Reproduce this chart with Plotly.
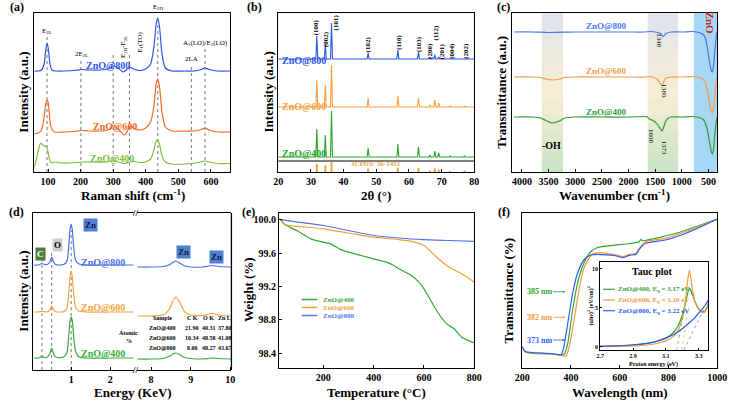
import plotly.graph_objects as go

W, H = 738, 401
FONT = 'Liberation Serif'

# ---------------- (a) Raman ----------------
raman_x_800 = [58, 70, 80, 88, 93, 97, 101, 106, 112, 125, 150, 180, 203, 230, 260, 285, 300, 315, 330, 340, 350, 362, 380, 400, 415, 425, 432, 437, 442, 450, 460, 480, 520, 550, 570, 582, 595, 620, 660]
raman_y_800 = [101, 101, 102, 108, 122, 129, 123, 108, 102, 101, 101, 101.5, 102.5, 102, 102, 103, 106, 104, 100, 102, 105, 103, 101.5, 103, 108, 125, 148, 154, 146, 118, 104, 101, 101, 101, 102.5, 104, 102.5, 101, 101]
raman_x_600 = [58, 70, 80, 88, 93, 97, 100, 104, 110, 120, 150, 180, 203, 230, 260, 285, 300, 315, 335, 345, 350, 362, 380, 400, 415, 425, 432, 437, 442, 450, 460, 480, 520, 550, 570, 582, 595, 620, 660]
raman_y_600 = [38, 39, 42, 55, 68, 72, 70, 58, 44, 40, 40, 40.5, 41.5, 41, 41, 42, 47, 43, 37, 42, 46, 44, 42, 44, 50, 66, 88, 93, 86, 60, 45, 41, 41, 41, 42.5, 44, 42, 40, 40]
raman_x_400 = [58, 65, 72, 78, 84, 90, 95, 100, 105, 112, 120, 140, 170, 203, 240, 280, 300, 315, 335, 350, 365, 380, 400, 415, 425, 432, 437, 442, 450, 460, 480, 520, 550, 570, 582, 595, 620, 660]
raman_y_400 = [5, 14, 24, 29, 27, 26, 25, 20, 12, 9, 10, 9, 9, 10, 10, 10, 11.5, 10, 8.5, 10, 10.5, 9.5, 10, 13, 22, 31, 32, 28, 16, 10, 8, 8, 9, 10, 11, 10, 8.5, 8.5]
raman_modes = ['E<sub>2L</sub>', '2E<sub>2L</sub>', 'E<sub>2H</sub>-E<sub>2L</sub>', 'E<sub>1</sub>(TO)', 'E<sub>2H</sub>', '2LA', 'A<sub>1</sub>(LO)/E<sub>1</sub>(LO)']
raman_mode_x = [97, 201, 300, 350, 437, 540, 582]
raman_mode_top = [136, 113, 118, 120, 150, 105, 123]

# ---------------- (b) XRD ----------------
xrd_hkl = ['(100)', '(002)', '(101)', '(102)', '(110)', '(103)', '(200)', '(112)', '(201)', '(004)', '(202)']
xrd_pos = [31.8, 34.4, 36.3, 47.5, 56.6, 62.9, 66.4, 67.9, 69.1, 72.6, 77.0]
xrd_base_800, xrd_top_800 = 113, [136, 128, 149, 119, 122, 120, 114.5, 117, 115, 113.5, 113.5]
xrd_base_600, xrd_top_600 = 65, [92, 87, 107, 74, 76, 74, 67, 72, 69, 66, 66]
xrd_base_400, xrd_top_400 = 15, [43, 37, 61, 24, 28, 25, 17, 21, 19, 16, 16]
jcpds_h = [8, 6.5, 10, 3.5, 4.5, 4, 1.5, 3.5, 2.5, 1, 1.5]
hkl_lab_x = [31.8, 34.6, 37.8, 47.6, 56.9, 63.1, 66.4, 68.4, 70.2, 73.1, 77.4]
hkl_lab_y = [144.5, 133, 150, 128, 130, 128, 121, 139, 121, 121, 121]

# ---------------- (c) FTIR ----------------
ftir_x_800 = [4150, 3800, 3500, 3000, 2500, 2000, 1700, 1600, 1450, 1400, 1348, 1300, 1200, 1000, 800, 720, 650, 590, 560, 520, 490, 460, 440, 425, 405, 385, 360, 340]
ftir_y_800 = [140, 140, 139.5, 140, 140, 140, 140, 140.5, 139.5, 138.5, 135.5, 138.5, 140, 140, 140.5, 140, 139, 137, 134, 124, 113, 104, 100.5, 100, 106, 118, 132, 140]
ftir_x_600 = [4150, 3800, 3650, 3550, 3430, 3300, 3200, 3000, 2500, 2000, 1700, 1600, 1500, 1450, 1400, 1380, 1350, 1300, 1200, 1000, 800, 720, 650, 590, 560, 520, 490, 460, 440, 425, 405, 385, 360, 340]
ftir_y_600 = [95, 95, 94.5, 93, 92, 93, 94.5, 95, 95, 95, 95, 95.5, 94, 92, 88, 86, 89, 94, 95, 95, 95.5, 95, 94, 92, 89, 82, 72, 63, 59.5, 59, 64, 75, 88, 95]
ftir_x_400 = [4150, 3800, 3650, 3550, 3430, 3300, 3200, 3000, 2500, 2000, 1700, 1650, 1608, 1560, 1500, 1450, 1400, 1373, 1340, 1300, 1250, 1200, 1000, 800, 720, 650, 590, 560, 520, 490, 460, 440, 425, 405, 385, 360, 340]
ftir_y_400 = [55, 55, 54, 51.5, 49, 51, 54, 55, 55, 55, 55.5, 55, 53, 52, 50, 47, 43, 41, 45, 51, 54, 55, 55, 55.5, 55, 54, 52, 49, 42, 33, 24, 19, 18, 23, 35, 48, 55]

# ---------------- (d) EDS ----------------
eds_xl = [0.05, 0.15, 0.2, 0.25, 0.31, 0.39, 0.45, 0.50, 0.55, 0.6, 0.7, 0.8, 0.86, 0.9, 0.94, 0.97, 1.0, 1.03, 1.06, 1.11, 1.2, 1.4, 1.8, 2.2, 2.6]
eds_yl_800 = [105, 105, 105.5, 106.5, 105.5, 105.5, 108, 113, 108, 105.5, 105, 105.5, 107, 110, 125, 140, 146, 140, 125, 110, 106, 105, 105, 105, 105]
eds_yl_600 = [58, 58, 58.3, 58.8, 58.3, 58.3, 60, 64, 60, 58.3, 58, 58.3, 60, 63, 78, 93, 98, 93, 78, 63, 59, 58, 58, 58, 58]
eds_yl_400 = [12, 12, 12.5, 14, 12.5, 13, 16, 22, 16, 13, 12.3, 13, 15, 19, 35, 49, 53, 49, 35, 19, 13, 12, 12, 12, 12]
eds_xr = [7.65, 8.0, 8.3, 8.45, 8.55, 8.63, 8.72, 8.85, 9.0, 9.3, 9.45, 9.57, 9.7, 10.03]
eds_yr_800 = [103, 103, 103.5, 105, 107.5, 109, 107, 104, 103, 103, 104, 104.5, 103.5, 103]
eds_yr_600 = [54, 54, 55, 60, 69, 73, 68, 58, 55, 54.5, 56, 56.5, 55, 54]
eds_yr_400 = [11, 11, 11.5, 13.5, 16, 17, 15.5, 12.5, 11.5, 11, 11.5, 12, 11.5, 11]
eds_lines = [0.25, 0.50, 1.0]
eds_line_top = [113, 120, 140]
table_cols = ['Sample', 'C K', 'O K', 'Zn L']
table_rows = [['ZnO@400', '21.90', '40.31', '37.80'],
              ['ZnO@600', '10.34', '48.58', '41.08'],
              ['ZnO@800', '8.06', '48.27', '43.67']]

# ---------------- (e) TGA ----------------
tga_x_400 = [30, 40, 60, 100, 150, 200, 230, 270, 300, 350, 400, 450, 480, 500, 550, 580, 600, 650, 690, 720, 750, 800]
tga_y_400 = [100.0, 99.96, 99.92, 99.86, 99.77, 99.73, 99.71, 99.64, 99.61, 99.57, 99.53, 99.49, 99.45, 99.41, 99.33, 99.25, 99.17, 98.91, 98.75, 98.69, 98.59, 98.52]
tga_x_600 = [30, 50, 100, 200, 300, 400, 500, 550, 600, 650, 700, 750, 800]
tga_y_600 = [100.0, 99.94, 99.92, 99.89, 99.84, 99.79, 99.76, 99.74, 99.69, 99.55, 99.43, 99.35, 99.25]
tga_x_800 = [30, 100, 200, 300, 400, 500, 600, 700, 800]
tga_y_800 = [100.0, 99.97, 99.93, 99.87, 99.81, 99.78, 99.76, 99.75, 99.74]

# ---------------- (f) UV-vis ----------------
uv_x_400 = [200, 213, 240, 320, 360, 373, 387, 407, 427, 453, 480, 507, 560, 627, 680, 687, 693, 787, 853, 920, 1000]
uv_y_400 = [21.3, 16.3, 14.7, 14, 13, 14, 24.7, 58, 84.7, 104.7, 116, 120.3, 122.3, 124, 126.3, 128.7, 127.3, 132, 136.3, 142, 149]
uv_x_600 = [200, 213, 240, 320, 360, 380, 393, 413, 433, 453, 480, 507, 547, 587, 613, 640, 667, 680, 707, 787, 853, 920, 1000]
uv_y_600 = [21.3, 16, 15, 14, 12.5, 12, 21.3, 48, 78, 99.7, 112, 115.3, 114.7, 113, 111.3, 113.7, 114.7, 119.7, 126.3, 129.7, 134.7, 140.7, 149]
uv_x_800 = [200, 213, 240, 320, 360, 371, 387, 407, 427, 453, 480, 507, 587, 613, 640, 667, 680, 707, 787, 853, 920, 1000]
uv_y_800 = [21.3, 16.5, 15.5, 14.5, 13.3, 21.3, 44.7, 74.7, 94.7, 108, 113, 113.7, 112, 110.3, 112.7, 113.7, 118.7, 124.7, 128, 133, 139.7, 149]
edge_labels = ['385 nm', '382 nm', '373 nm']

# Tauc inset
tauc_x = [2.70, 2.80, 2.90, 3.00, 3.05, 3.10, 3.14, 3.17, 3.20, 3.22, 3.235, 3.245, 3.26, 3.28, 3.30, 3.32, 3.335, 3.35, 3.36]
tauc_y_400 = [0.05, 0.1, 0.2, 0.45, 0.7, 1.1, 1.7, 2.5, 4.0, 5.6, 7.0, 7.5, 6.8, 5.7, 4.9, 4.5, 4.5, 5.0, 5.5]
tauc_y_600 = [0.02, 0.05, 0.1, 0.25, 0.45, 0.75, 1.2, 1.9, 3.6, 6.0, 8.8, 9.8, 7.6, 5.6, 4.8, 4.4, 4.4, 4.9, 5.4]
tauc_x_800 = [2.70, 2.80, 2.90, 3.00, 3.05, 3.10, 3.15, 3.20, 3.25, 3.28, 3.30, 3.32, 3.34, 3.36]
tauc_y_800 = [0.05, 0.1, 0.25, 0.5, 0.75, 1.1, 1.6, 2.3, 3.2, 3.8, 4.3, 4.8, 5.3, 6.0]
tauc_eg = [3.17, 3.20, 3.22]
tauc_slope = [110, 125, 43]

samples = ['ZnO@400', 'ZnO@600', 'ZnO@800']


def px(x):
    return x / W


def py(y):
    return 1 - y / H


fig = go.Figure()
annotations = []
shapes = []


def text(t, x, y, size=10, color='black', angle=0, xanchor='center', bold=True,
         xref='paper', yref='paper', **kw):
    if xref == 'paper':
        x = px(x)
    if yref == 'paper':
        y = py(y)
    d = dict(text=t, x=x, y=y, xref=xref, yref=yref, showarrow=False, textangle=angle,
             xanchor=xanchor, yanchor='middle',
             font=dict(family=FONT, size=size, color=color, weight='bold' if bold else 'normal'))
    d.update(kw)
    annotations.append(d)


def line(x, y, color, xa, ya, width=1.2, spline=True):
    fig.add_trace(go.Scatter(x=x, y=y, xaxis=xa, yaxis=ya, mode='lines', showlegend=False,
                             line=dict(color=color, width=width,
                                       shape='spline' if spline else 'linear', smoothing=0.6)))


def axis(l, r, rng, anchor, horizontal=True, **kw):
    d = dict(domain=[px(l), px(r)] if horizontal else [py(r), py(l)], range=rng, anchor=anchor,
             showline=True, linecolor='black', linewidth=1.3, mirror=True, ticks='inside',
             ticklen=3, tickwidth=1, tickcolor='black', showgrid=False, zeroline=False,
             tickfont=dict(family=FONT, size=10, color='black', weight='bold'))
    d.update(kw)
    return d


noy = dict(showticklabels=False, ticks='')
small = dict(family=FONT, size=6, color='black', weight='bold')

# ---- (a)
ca = {'800': '#2f55f0', '600': '#f46a22', '400': '#7cc242'}
for mx, top in zip(raman_mode_x, raman_mode_top):
    shapes.append(dict(type='line', xref='x', yref='y', x0=mx, x1=mx, y0=0, y1=top,
                       line=dict(color='#555', width=0.8, dash='dot'), layer='below'))
line(raman_x_800, raman_y_800, ca['800'], 'x', 'y')
line(raman_x_600, raman_y_600, ca['600'], 'x', 'y')
line(raman_x_400, raman_y_400, ca['400'], 'x', 'y')
text('ZnO@800', 103, 66, 10, ca['800'])
text('ZnO@600', 110, 127, 10, ca['600'])
text('ZnO@400', 107, 158, 10, ca['400'])
mode_px = [(40, 31, 0), (75, 54, 0), (118, 47, -90), (135, 42, -90), (154, 7, 0), (188, 59, 0), (202, 43, 0)]
for lab, (lx, ly, ang) in zip(raman_modes, mode_px):
    text(lab, lx, ly, 7, 'black', ang, bold=False)

# ---- (b)
cb = {'800': '#2a55ea', '600': '#f7a03c', '400': '#2ea52e'}


def xrd_curve(base, tops):
    xs, ys = [20], [base]
    for p, t in zip(xrd_pos, tops):
        xs += [p - 0.3, p, p + 0.3]
        ys += [base, t, base]
    xs.append(80)
    ys.append(base)
    return xs, ys


for key, base, tops in [('800', xrd_base_800, xrd_top_800), ('600', xrd_base_600, xrd_top_600),
                        ('400', xrd_base_400, xrd_top_400)]:
    xs, ys = xrd_curve(base, tops)
    line(xs, ys, cb[key], 'x2', 'y2', 1.1, spline=False)
for p, h in zip(xrd_pos, jcpds_h):
    shapes.append(dict(type='line', xref='x2', yref='y2', x0=p, x1=p, y0=0, y1=h,
                       line=dict(color='#f0a040', width=2)))
shapes.append(dict(type='line', xref='x2', yref='y2', x0=20, x1=80, y0=11, y1=11,
                   line=dict(color='black', width=1)))
for lab, lx, ly in zip(xrd_hkl, hkl_lab_x, hkl_lab_y):
    text(lab, lx, ly, 7, 'black', -90, xref='x2', yref='y2')
text('ZnO@800', 279, 60, 10, cb['800'], xanchor='left')
text('ZnO@600', 279, 107, 10, cb['600'], xanchor='left')
text('ZnO@400', 279, 153, 10, cb['400'], xanchor='left')
text('JCPDS: 36-1451', 377, 164, 7, '#f0a040')

# ---- (c)
cc = {'800': '#4d74f2', '600': '#f39c45', '400': '#2f9e35'}


def mix(stops, t):
    for (t0, c0), (t1, c1) in zip(stops[:-1], stops[1:]):
        if t0 <= t <= t1:
            f = (t - t0) / (t1 - t0)
            return 'rgb(%d,%d,%d)' % tuple(round(a + (b - a) * f) for a, b in zip(c0, c1))
    return 'rgb(%d,%d,%d)' % stops[-1][1]


grad = [(0, (222, 227, 236)), (0.5, (248, 237, 212)), (1, (200, 228, 196))]
n = 30
for x0, x1 in [(3630, 3230), (1640, 1070)]:
    for i in range(n):
        shapes.append(dict(type='rect', xref='x3', yref='y3', x0=x0, x1=x1,
                           y0=159 * (1 - (i + 1) / n), y1=159 * (1 - i / n) + 0.3,
                           fillcolor=mix(grad, (i + 0.5) / n), line=dict(width=0), layer='below'))
shapes.append(dict(type='rect', xref='x3', yref='y3', x0=776, x1=335, y0=0, y1=159,
                   fillcolor='#a6d8f5', line=dict(width=0), layer='below'))
line(ftir_x_800, ftir_y_800, cc['800'], 'x3', 'y3')
line(ftir_x_600, ftir_y_600, cc['600'], 'x3', 'y3')
line(ftir_x_400, ftir_y_400, cc['400'], 'x3', 'y3')
text('ZnO@800', 613, 26, 9, cc['800'])
text('ZnO@600', 613, 71, 9, cc['600'])
text('ZnO@400', 613, 112, 9, cc['400'])
text('-OH', 557, 145, 10)
text('ZnO', 720, 23, 11, '#d02020', 90)
for lab, lx, ly in [('1348', 667, 41), ('1380', 672, 91), ('1608', 659, 137), ('1373', 672, 148)]:
    text(lab, lx, ly, 7, 'black', 90, bold=False)

# ---- (d)
cd = {'800': '#4d6ff0', '600': '#f6a23f', '400': '#38ad3a'}
for e, top in zip(eds_lines, eds_line_top):
    shapes.append(dict(type='line', xref='x4', yref='y4', x0=e, x1=e, y0=0, y1=top,
                       line=dict(color='#555', width=0.8, dash='dot'), layer='below'))
line(eds_xl, eds_yl_800, cd['800'], 'x4', 'y4')
line(eds_xl, eds_yl_600, cd['600'], 'x4', 'y4')
line(eds_xl, eds_yl_400, cd['400'], 'x4', 'y4')
line(eds_xr, eds_yr_800, cd['800'], 'x5', 'y4')
line(eds_xr, eds_yr_600, cd['600'], 'x5', 'y4')
line(eds_xr, eds_yr_400, cd['400'], 'x5', 'y4')
shapes.append(dict(type='line', xref='paper', yref='paper', x0=px(229), x1=px(229), y0=py(213),
                   y1=py(370), line=dict(color='black', width=1.3)))
text('//', 131, 213, 9)
text('//', 131, 370, 9)
text('ZnO@800', 97, 262, 10, cd['800'])
text('ZnO@600', 97, 307, 10, cd['600'])
text('ZnO@400', 97, 353, 10, cd['400'])
text('C', 33, 254, 9, 'white', bgcolor='#4e7d3a', borderpad=1)
text('O', 51, 245, 9, 'black', bgcolor='#cfcfcf', borderpad=1)
for zx, zy in [(85, 225), (180, 252), (214, 257)]:
    text('Zn', zx, zy, 9, '#0d1b3a', bgcolor='#4f7fd1', borderpad=1)
col_x = [158, 189, 206, 222]
row_y = [318, 328, 338, 348]
for c, cx in zip(table_cols, col_x):
    text(c, cx, row_y[0], 6)
for r, ry in zip(table_rows, row_y[1:]):
    for v, cx in zip(r, col_x):
        text(v, cx, ry, 6)
text('Atomic', 124, 333, 6)
text('%', 124, 341, 6)

# ---- (e)
ce = {'400': '#34a834', '600': '#f5a030', '800': '#5573f2'}
line(tga_x_400, tga_y_400, ce['400'], 'x6', 'y5')
line(tga_x_600, tga_y_600, ce['600'], 'x6', 'y5')
line(tga_x_800, tga_y_800, ce['800'], 'x6', 'y5')
for s, ly in zip(samples, [299.5, 307.5, 315.5]):
    key = s[-3:]
    shapes.append(dict(type='line', xref='paper', yref='paper', x0=px(301), x1=px(317),
                       y0=py(ly), y1=py(ly), line=dict(color=ce[key], width=1.5)))
    text(s, 321, ly, 7, ce[key], xanchor='left')

# ---- (f)
cf = {'400': '#30a530', '600': '#f5993e', '800': '#2f5df2'}
line(uv_x_400, uv_y_400, cf['400'], 'x7', 'y6')
line(uv_x_600, uv_y_600, cf['600'], 'x7', 'y6')
line(uv_x_800, uv_y_800, cf['800'], 'x7', 'y6')
for lab, key, ly in zip(edge_labels, ['400', '600', '800'], [291.7, 317.3, 340]):
    annotations.append(dict(text=lab, x=px(571), y=py(ly), xref='paper', yref='paper',
                            showarrow=True, ax=-26, ay=0, arrowhead=2, arrowsize=0.6,
                            arrowwidth=0.8, arrowcolor=cf[key],
                            font=dict(family=FONT, size=8, color=cf[key], weight='bold')))
# inset
line(tauc_x, tauc_y_400, cf['400'], 'x8', 'y7')
line(tauc_x, tauc_y_600, cf['600'], 'x8', 'y7')
line(tauc_x_800, tauc_y_800, cf['800'], 'x8', 'y7')
for eg, sl, key in zip(tauc_eg, tauc_slope, ['400', '600', '800']):
    shapes.append(dict(type='line', xref='x8', yref='y7', x0=eg - 0.4 / sl, y0=-0.4,
                       x1=eg + 5 / sl, y1=5, line=dict(color=cf[key], width=0.6, dash='dot')))
text('Tauc plot', 661, 271, 10)
for s, eg, ly in zip(samples, tauc_eg, [289.3, 300, 310.7]):
    key = s[-3:]
    shapes.append(dict(type='line', xref='paper', yref='paper', x0=px(610), x1=px(622),
                       y0=py(ly), y1=py(ly), line=dict(color=cf[key], width=1.2)))
    text('%s, E<sub>g</sub> = %.2f eV' % (s, eg), 623, ly, 7, cf[key], xanchor='left')
text('(αhν)<sup>2</sup> (eV/cm)<sup>2</sup>', 597, 306, 6, angle=-90)
text('Proton energy (eV)', 662, 364, 6)

# ---- panel letters & titles
for lab, lx, ly in [('(a)', 9, 7), ('(b)', 253, 7), ('(c)', 508, 7), ('(d)', 9, 212),
                    ('(e)', 246, 212), ('(f)', 508, 212)]:
    text(lab, lx, ly, 12)
for t, tx, ty in [('Raman shift (cm<sup>-1</sup>)', 128, 195), ('2θ (°)', 377, 195),
                  ('Wavenumber (cm<sup>-1</sup>)', 622, 195), ('Energy (KeV)', 128, 392),
                  ('Temperature (°C)', 378, 392), ('Wavelength (nm)', 627, 392)]:
    text(t, tx, ty, 13)
for t, tx, ty in [('Intensity (a.u.)', 15, 92), ('Intensity (a.u.)', 267, 92),
                  ('Transmittance (a.u.)', 505, 92), ('Intensity (a.u.)', 15, 291),
                  ('Weight (%)', 246, 290), ('Transmittance (%)', 513, 290)]:
    text(t, tx, ty, 13, angle=-90)

fig.update_layout(
    width=W, height=H, margin=dict(l=0, r=0, t=0, b=0),
    paper_bgcolor='white', plot_bgcolor='rgba(0,0,0,0)', showlegend=False,
    xaxis=axis(27, 228, [58, 660], 'y', tickvals=[100, 200, 300, 400, 500, 600]),
    yaxis=axis(13, 172, [0, 159], 'x', False, **noy),
    xaxis2=axis(277, 478, [20, 80], 'y2', tickvals=[20, 30, 40, 50, 60, 70, 80]),
    yaxis2=axis(13, 172, [0, 159], 'x2', False, **noy),
    xaxis3=axis(517, 727, [4180, 335], 'y3', tickvals=[4000, 3500, 3000, 2500, 2000, 1500, 1000, 500]),
    yaxis3=axis(13, 172, [0, 159], 'x3', False, **noy),
    xaxis4=axis(26, 129.5, [0.03, 2.62], 'y4', tickvals=[1, 2]),
    xaxis5=axis(132.5, 229, [7.65, 10.03], 'y4', tickvals=[8, 9, 10]),
    yaxis4=axis(213, 370, [0, 157], 'x4', False, mirror=False, **noy),
    xaxis6=axis(278, 478, [25, 800], 'y5', tickvals=[200, 400, 600, 800]),
    yaxis5=axis(213, 368, [98.22, 100.08], 'x6', False,
                tickvals=[98.4, 98.8, 99.2, 99.6, 100.0],
                ticktext=['98.4', '98.8', '99.2', '99.6', '100.0']),
    xaxis7=axis(527, 727, [200, 1000], 'y6', tickvals=[200, 400, 600, 800, 1000]),
    yaxis6=axis(213, 368, [0, 155], 'x7', False, **noy),
    xaxis8=axis(607, 718, [2.7, 3.36], 'y7', tickvals=[2.7, 2.9, 3.1, 3.3], ticklen=2,
                linewidth=1, tickfont=small),
    yaxis7=axis(262, 350, [-0.42, 10.86], 'x8', False, tickvals=[0, 5, 10], ticklen=2,
                linewidth=1, tickfont=small),
    annotations=annotations, shapes=shapes,
)
fig.write_html('out.html', config={'displayModeBar': False},
               post_script="document.body.style.margin='0px';")
